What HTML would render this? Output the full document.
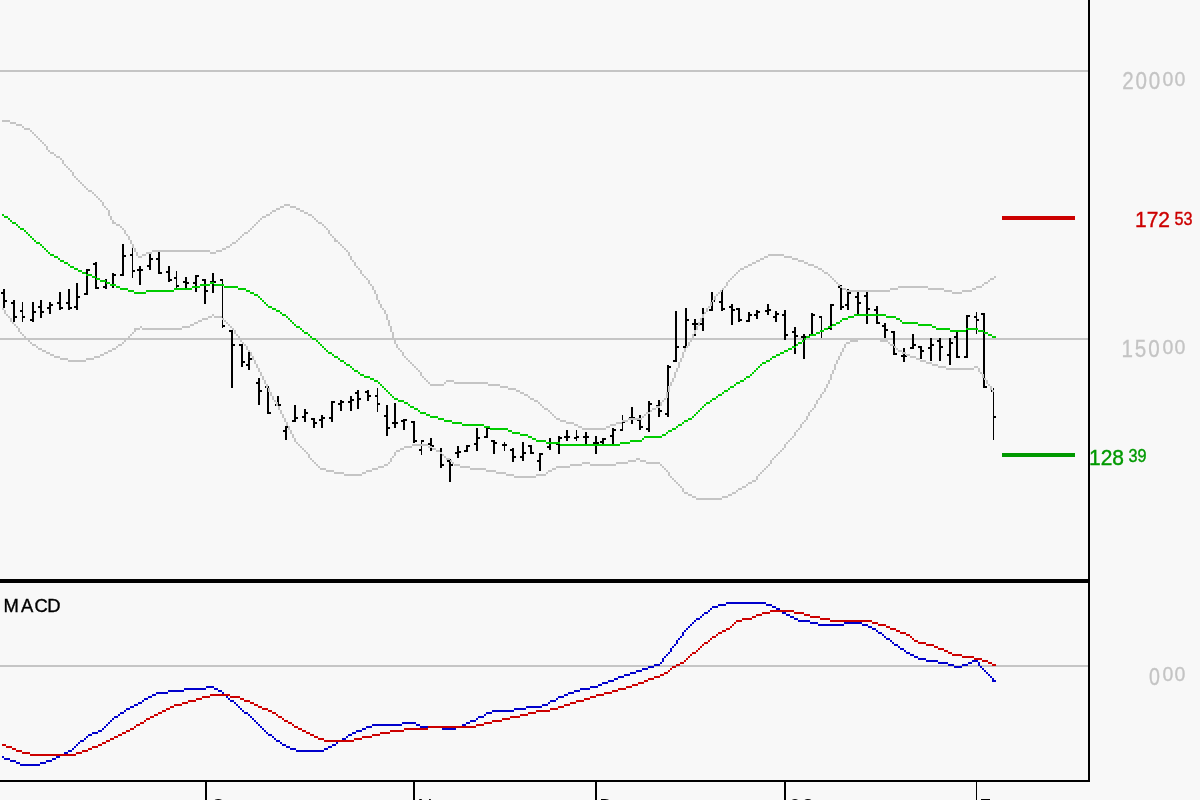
<!DOCTYPE html>
<html lang="en">
<head>
<meta charset="utf-8">
<title>MACD chart</title>
<style>
html,body{margin:0;padding:0;background:#f8f8f8;}
body{width:1200px;height:800px;overflow:hidden;position:relative;font-family:"Liberation Sans",sans-serif;}
svg{position:absolute;left:0;top:0;display:block;}
text{font-family:"Liberation Sans",sans-serif;}
.g{fill:#c4c4c4;stroke:#c4c4c4;stroke-width:0.3px}
.r{fill:#cc0000;stroke:#cc0000;stroke-width:0.4px}
.gr{fill:#009900;stroke:#009900;stroke-width:0.4px}
</style>
</head>
<body>
<svg width="1200" height="800" viewBox="0 0 1200 800">
<rect x="0" y="0" width="1200" height="800" fill="#f8f8f8"/>
<!-- grid -->
<g fill="#c5c5c5">
<rect x="0" y="70" width="1088" height="2"/>
<rect x="0" y="338" width="1088" height="2"/>
<rect x="0" y="665" width="1088" height="2"/>
</g>
<!-- price bars -->
<g fill="#000000">
<path d="M3 289h2v19h-2zM1 292h2v2h-2zM5 300h2v2h-2zM13 300h2v22h-2zM11 302h2v2h-2zM15 316h2v2h-2zM22 302h1v20h-1zM20 310h2v2h-2zM23 316h2v2h-2zM32 302h2v20h-2zM30 319h2v2h-2zM34 311h2v2h-2zM40 300h2v18h-2zM38 306h2v2h-2zM42 311h2v2h-2zM49 302h2v12h-2zM47 307h2v2h-2zM51 304h2v2h-2zM59 292h2v18h-2zM57 302h2v2h-2zM61 307h2v2h-2zM68 289h2v21h-2zM66 302h2v2h-2zM70 307h2v2h-2zM76 283h2v27h-2zM74 306h2v2h-2zM78 296h2v2h-2zM86 269h2v26h-2zM84 293h2v2h-2zM88 269h2v2h-2zM95 262h2v27h-2zM93 263h2v2h-2zM97 287h2v2h-2zM105 279h2v10h-2zM103 286h2v2h-2zM107 282h2v2h-2zM112 273h2v15h-2zM110 284h2v2h-2zM114 274h2v2h-2zM122 244h2v32h-2zM120 274h2v2h-2zM124 255h2v2h-2zM132 248h1v30h-1zM130 254h2v2h-2zM133 270h2v2h-2zM139 266h2v19h-2zM137 269h2v2h-2zM141 269h2v2h-2zM149 254h2v16h-2zM147 265h2v2h-2zM151 258h2v2h-2zM158 252h2v22h-2zM156 258h2v2h-2zM160 272h2v2h-2zM168 266h2v16h-2zM166 271h2v2h-2zM170 279h2v2h-2zM176 271h1v17h-1zM174 277h2v2h-2zM177 285h2v2h-2zM185 277h2v12h-2zM183 281h2v2h-2zM187 282h2v2h-2zM195 275h2v17h-2zM193 282h2v2h-2zM197 275h2v2h-2zM204 279h2v25h-2zM202 279h2v2h-2zM206 290h2v2h-2zM212 273h2v20h-2zM210 281h2v2h-2zM214 281h2v2h-2zM222 279h1v49h-1zM220 279h2v2h-2zM223 325h2v2h-2zM231 330h2v58h-2zM229 330h2v2h-2zM233 344h2v2h-2zM241 344h2v23h-2zM239 344h2v2h-2zM243 361h2v2h-2zM248 351h2v19h-2zM246 364h2v2h-2zM250 358h2v2h-2zM258 378h2v27h-2zM256 382h2v2h-2zM260 390h2v2h-2zM267 386h2v28h-2zM265 386h2v2h-2zM269 412h2v2h-2zM277 396h2v10h-2zM275 404h2v2h-2zM279 404h2v2h-2zM285 426h2v14h-2zM283 430h2v2h-2zM287 426h2v2h-2zM294 405h2v17h-2zM292 420h2v2h-2zM296 417h2v2h-2zM304 409h2v13h-2zM302 416h2v2h-2zM306 412h2v2h-2zM313 418h2v10h-2zM311 418h2v2h-2zM315 422h2v2h-2zM321 415h2v13h-2zM319 419h2v2h-2zM323 417h2v2h-2zM331 401h2v21h-2zM329 417h2v2h-2zM333 401h2v2h-2zM340 400h2v11h-2zM338 403h2v2h-2zM342 401h2v2h-2zM350 396h2v15h-2zM348 401h2v2h-2zM352 399h2v2h-2zM357 390h2v19h-2zM355 392h2v2h-2zM359 398h2v2h-2zM367 390h2v11h-2zM365 391h2v2h-2zM369 395h2v2h-2zM377 388h1v24h-1zM375 395h2v2h-2zM378 403h2v2h-2zM386 405h2v31h-2zM384 415h2v2h-2zM388 427h2v2h-2zM394 403h2v25h-2zM392 422h2v2h-2zM396 422h2v2h-2zM403 419h2v11h-2zM401 420h2v2h-2zM405 419h2v2h-2zM413 421h2v22h-2zM411 421h2v2h-2zM415 440h2v2h-2zM421 440h1v15h-1zM419 449h2v2h-2zM422 440h2v2h-2zM430 438h2v13h-2zM428 443h2v2h-2zM432 445h2v2h-2zM440 448h2v20h-2zM438 450h2v2h-2zM442 464h2v2h-2zM449 459h2v23h-2zM447 460h2v2h-2zM451 464h2v2h-2zM457 446h2v12h-2zM455 452h2v2h-2zM459 451h2v2h-2zM466 445h2v7h-2zM464 450h2v2h-2zM468 445h2v2h-2zM476 428h2v23h-2zM474 443h2v2h-2zM478 437h2v2h-2zM486 427h2v11h-2zM484 436h2v2h-2zM488 427h2v2h-2zM493 440h2v14h-2zM491 440h2v2h-2zM495 442h2v2h-2zM504 442h1v9h-1zM502 444h2v2h-2zM505 444h2v2h-2zM512 448h2v14h-2zM510 449h2v2h-2zM514 456h2v2h-2zM522 442h2v19h-2zM520 456h2v2h-2zM524 452h2v2h-2zM530 445h2v9h-2zM528 445h2v2h-2zM532 452h2v2h-2zM539 453h2v18h-2zM537 460h2v2h-2zM541 453h2v2h-2zM549 438h2v12h-2zM547 446h2v2h-2zM551 442h2v2h-2zM558 436h2v18h-2zM556 443h2v2h-2zM560 437h2v2h-2zM566 430h2v11h-2zM564 436h2v2h-2zM568 436h2v2h-2zM576 430h1v11h-1zM574 437h2v2h-2zM577 436h2v2h-2zM585 432h2v13h-2zM583 436h2v2h-2zM587 436h2v2h-2zM595 436h2v18h-2zM593 442h2v2h-2zM597 442h2v2h-2zM602 438h2v7h-2zM600 441h2v2h-2zM604 438h2v2h-2zM612 428h2v18h-2zM610 435h2v2h-2zM614 429h2v2h-2zM622 415h1v16h-1zM620 429h2v2h-2zM623 421h2v2h-2zM631 407h2v17h-2zM629 417h2v2h-2zM633 417h2v2h-2zM639 415h2v15h-2zM637 419h2v2h-2zM641 426h2v2h-2zM648 401h2v31h-2zM646 428h2v2h-2zM650 403h2v2h-2zM658 400h2v17h-2zM656 405h2v2h-2zM660 410h2v2h-2zM667 365h2v52h-2zM665 413h2v2h-2zM669 366h2v2h-2zM675 311h2v51h-2zM673 360h2v2h-2zM677 346h2v2h-2zM685 308h2v40h-2zM683 346h2v2h-2zM687 319h2v2h-2zM694 319h2v17h-2zM692 323h2v2h-2zM696 323h2v2h-2zM702 308h2v23h-2zM700 323h2v2h-2zM704 312h2v2h-2zM711 292h2v19h-2zM709 309h2v2h-2zM713 300h2v2h-2zM721 290h2v21h-2zM719 301h2v2h-2zM723 308h2v2h-2zM731 304h2v21h-2zM729 306h2v2h-2zM733 309h2v2h-2zM738 308h2v14h-2zM736 308h2v2h-2zM740 319h2v2h-2zM748 312h2v10h-2zM746 320h2v2h-2zM750 314h2v2h-2zM756 310h2v9h-2zM754 314h2v2h-2zM758 311h2v2h-2zM767 304h2v11h-2zM765 310h2v2h-2zM769 309h2v2h-2zM775 311h2v11h-2zM773 316h2v2h-2zM777 313h2v2h-2zM784 310h2v30h-2zM782 314h2v2h-2zM786 334h2v2h-2zM794 327h2v27h-2zM792 331h2v2h-2zM796 335h2v2h-2zM803 334h2v25h-2zM801 336h2v2h-2zM805 336h2v2h-2zM811 313h2v23h-2zM809 334h2v2h-2zM813 314h2v2h-2zM821 316h1v22h-1zM819 316h2v2h-2zM822 330h2v2h-2zM830 304h2v26h-2zM828 327h2v2h-2zM832 304h2v2h-2zM840 285h2v25h-2zM838 286h2v2h-2zM842 306h2v2h-2zM847 289h2v21h-2zM845 304h2v2h-2zM849 292h2v2h-2zM857 292h2v23h-2zM855 296h2v2h-2zM859 302h2v2h-2zM866 292h2v32h-2zM864 295h2v2h-2zM868 308h2v2h-2zM876 306h2v18h-2zM874 309h2v2h-2zM878 322h2v2h-2zM884 323h2v15h-2zM882 325h2v2h-2zM886 329h2v2h-2zM893 331h2v24h-2zM891 331h2v2h-2zM895 353h2v2h-2zM903 348h2v14h-2zM901 355h2v2h-2zM905 355h2v2h-2zM912 334h2v15h-2zM910 347h2v2h-2zM914 344h2v2h-2zM920 346h2v13h-2zM918 346h2v2h-2zM922 350h2v2h-2zM930 338h2v23h-2zM928 347h2v2h-2zM932 344h2v2h-2zM939 338h2v23h-2zM937 340h2v2h-2zM941 346h2v2h-2zM949 338h2v27h-2zM947 354h2v2h-2zM951 342h2v2h-2zM956 332h2v26h-2zM954 336h2v2h-2zM958 356h2v2h-2zM966 315h2v43h-2zM964 356h2v2h-2zM968 315h2v2h-2zM976 312h1v22h-1zM974 316h2v2h-2zM977 319h2v2h-2zM983 313h2v75h-2zM981 313h2v2h-2zM985 386h2v2h-2zM993 388h1v52h-1zM991 390h2v2h-2zM994 416h2v2h-2z"/>
</g>
<!-- bollinger bands -->
<path fill="#c4c4c4" d="M2 120h8v2h-8zM10 122h6v2h-6zM16 124h6v2h-6zM22 126h2v2h-2zM24 128h6v2h-6zM30 130h2v2h-2zM32 132h2v2h-2zM34 134h2v2h-2zM36 136h2v2h-2zM38 138h2v2h-2zM40 140h2v2h-2zM42 142h2v2h-2zM44 144h2v2h-2zM46 146h2v2h-2zM46 148h2v2h-2zM48 150h2v2h-2zM50 152h4v2h-4zM54 154h2v2h-2zM56 156h4v2h-4zM60 158h2v2h-2zM62 160h2v2h-2zM62 162h2v2h-2zM64 164h2v2h-2zM66 166h2v2h-2zM68 168h2v2h-2zM70 170h2v2h-2zM72 172h2v2h-2zM72 174h2v2h-2zM74 176h2v2h-2zM76 178h2v2h-2zM78 180h2v2h-2zM80 182h2v2h-2zM82 184h2v2h-2zM84 186h2v2h-2zM86 188h2v2h-2zM88 190h4v2h-4zM92 192h2v2h-2zM94 194h2v2h-2zM96 196h2v2h-2zM98 198h2v2h-2zM100 200h2v2h-2zM102 202h2v2h-2zM102 204h2v2h-2zM284 204h6v2h-6zM104 206h2v2h-2zM280 206h4v2h-4zM290 206h6v2h-6zM106 208h2v2h-2zM276 208h4v2h-4zM296 208h4v2h-4zM108 210h2v2h-2zM272 210h4v2h-4zM300 210h4v2h-4zM108 212h2v2h-2zM270 212h2v2h-2zM304 212h4v2h-4zM108 214h2v2h-2zM266 214h4v2h-4zM308 214h4v2h-4zM110 216h2v2h-2zM262 216h4v2h-4zM312 216h2v2h-2zM110 218h2v2h-2zM260 218h2v2h-2zM314 218h2v2h-2zM112 220h2v2h-2zM258 220h2v2h-2zM316 220h2v2h-2zM112 222h4v2h-4zM256 222h2v2h-2zM318 222h4v2h-4zM116 224h4v2h-4zM254 224h2v2h-2zM322 224h2v2h-2zM120 226h2v2h-2zM252 226h2v2h-2zM324 226h2v2h-2zM122 228h2v2h-2zM250 228h2v2h-2zM326 228h2v2h-2zM124 230h2v2h-2zM248 230h2v2h-2zM328 230h2v2h-2zM124 232h2v2h-2zM244 232h4v2h-4zM328 232h2v2h-2zM126 234h2v2h-2zM242 234h2v2h-2zM330 234h2v2h-2zM128 236h2v2h-2zM240 236h2v2h-2zM332 236h2v2h-2zM128 238h2v2h-2zM238 238h2v2h-2zM334 238h2v2h-2zM130 240h2v2h-2zM236 240h2v2h-2zM334 240h4v2h-4zM130 242h2v2h-2zM232 242h4v2h-4zM338 242h2v2h-2zM132 244h2v2h-2zM230 244h2v2h-2zM340 244h2v2h-2zM132 246h2v2h-2zM226 246h4v2h-4zM342 246h2v2h-2zM134 248h2v2h-2zM222 248h4v2h-4zM344 248h2v2h-2zM134 250h2v2h-2zM152 250h58v2h-58zM216 250h6v2h-6zM346 250h2v2h-2zM136 252h2v2h-2zM146 252h6v2h-6zM210 252h6v2h-6zM348 252h2v2h-2zM136 254h2v2h-2zM142 254h4v2h-4zM348 254h2v2h-2zM768 254h16v2h-16zM138 256h4v2h-4zM350 256h2v2h-2zM764 256h4v2h-4zM784 256h8v2h-8zM350 258h2v2h-2zM760 258h4v2h-4zM792 258h6v2h-6zM352 260h2v2h-2zM756 260h4v2h-4zM798 260h6v2h-6zM354 262h2v2h-2zM752 262h4v2h-4zM804 262h4v2h-4zM354 264h2v2h-2zM748 264h4v2h-4zM808 264h6v2h-6zM356 266h2v2h-2zM744 266h4v2h-4zM814 266h4v2h-4zM358 268h2v2h-2zM740 268h4v2h-4zM818 268h4v2h-4zM360 270h2v2h-2zM738 270h2v2h-2zM822 270h2v2h-2zM360 272h2v2h-2zM736 272h2v2h-2zM824 272h4v2h-4zM362 274h2v2h-2zM734 274h2v2h-2zM828 274h2v2h-2zM364 276h2v2h-2zM732 276h2v2h-2zM830 276h2v2h-2zM994 276h2v2h-2zM366 278h2v2h-2zM730 278h2v2h-2zM832 278h2v2h-2zM990 278h4v2h-4zM368 280h2v2h-2zM728 280h2v2h-2zM834 280h2v2h-2zM988 280h2v2h-2zM368 282h2v2h-2zM726 282h2v2h-2zM836 282h2v2h-2zM984 282h4v2h-4zM370 284h2v2h-2zM726 284h2v2h-2zM838 284h2v2h-2zM982 284h2v2h-2zM372 286h2v2h-2zM724 286h2v2h-2zM840 286h2v2h-2zM898 286h30v2h-30zM976 286h6v2h-6zM372 288h2v2h-2zM722 288h2v2h-2zM842 288h4v2h-4zM890 288h8v2h-8zM928 288h16v2h-16zM972 288h4v2h-4zM374 290h2v2h-2zM720 290h2v2h-2zM846 290h44v2h-44zM944 290h8v2h-8zM962 290h10v2h-10zM374 292h2v2h-2zM718 292h2v2h-2zM952 292h10v2h-10zM376 294h2v2h-2zM716 294h2v2h-2zM376 296h2v2h-2zM714 296h2v2h-2zM376 298h2v2h-2zM714 298h2v2h-2zM378 300h2v2h-2zM712 300h2v2h-2zM378 302h2v2h-2zM710 302h2v2h-2zM380 304h2v2h-2zM710 304h2v2h-2zM380 306h2v2h-2zM708 306h2v2h-2zM382 308h2v2h-2zM706 308h2v2h-2zM384 310h2v2h-2zM706 310h2v2h-2zM384 312h2v2h-2zM704 312h2v2h-2zM386 314h2v2h-2zM702 314h2v2h-2zM386 316h2v2h-2zM702 316h2v2h-2zM386 318h2v2h-2zM700 318h2v2h-2zM388 320h2v2h-2zM700 320h2v2h-2zM388 322h2v2h-2zM698 322h2v2h-2zM388 324h2v2h-2zM698 324h2v2h-2zM390 326h2v2h-2zM696 326h2v2h-2zM390 328h2v2h-2zM696 328h2v2h-2zM390 330h2v2h-2zM694 330h2v2h-2zM392 332h2v2h-2zM694 332h2v2h-2zM392 334h2v2h-2zM692 334h2v2h-2zM392 336h2v2h-2zM692 336h2v2h-2zM392 338h2v2h-2zM690 338h2v2h-2zM394 340h2v2h-2zM690 340h2v2h-2zM394 342h2v2h-2zM688 342h2v2h-2zM396 344h2v2h-2zM688 344h2v2h-2zM396 346h2v2h-2zM686 346h2v2h-2zM398 348h2v2h-2zM684 348h2v2h-2zM400 350h2v2h-2zM684 350h2v2h-2zM402 352h2v2h-2zM682 352h2v2h-2zM402 354h2v2h-2zM682 354h2v2h-2zM404 356h2v2h-2zM682 356h2v2h-2zM406 358h2v2h-2zM680 358h2v2h-2zM408 360h2v2h-2zM680 360h2v2h-2zM410 362h2v2h-2zM678 362h2v2h-2zM412 364h2v2h-2zM678 364h2v2h-2zM414 366h2v2h-2zM678 366h2v2h-2zM416 368h2v2h-2zM676 368h2v2h-2zM418 370h2v2h-2zM676 370h2v2h-2zM420 372h2v2h-2zM674 372h2v2h-2zM420 374h2v2h-2zM674 374h2v2h-2zM422 376h2v2h-2zM674 376h2v2h-2zM424 378h2v2h-2zM672 378h2v2h-2zM426 380h2v2h-2zM446 380h8v2h-8zM672 380h2v2h-2zM428 382h2v2h-2zM444 382h2v2h-2zM454 382h34v2h-34zM670 382h2v2h-2zM430 384h14v2h-14zM488 384h12v2h-12zM670 384h2v2h-2zM500 386h8v2h-8zM668 386h2v2h-2zM508 388h8v2h-8zM668 388h2v2h-2zM516 390h4v2h-4zM668 390h2v2h-2zM520 392h4v2h-4zM666 392h2v2h-2zM524 394h4v2h-4zM666 394h2v2h-2zM528 396h2v2h-2zM666 396h2v2h-2zM530 398h4v2h-4zM664 398h2v2h-2zM534 400h4v2h-4zM662 400h2v2h-2zM538 402h2v2h-2zM660 402h2v2h-2zM540 404h2v2h-2zM660 404h2v2h-2zM542 406h2v2h-2zM656 406h4v2h-4zM544 408h4v2h-4zM652 408h4v2h-4zM548 410h2v2h-2zM650 410h2v2h-2zM550 412h2v2h-2zM646 412h4v2h-4zM552 414h2v2h-2zM644 414h2v2h-2zM554 416h2v2h-2zM642 416h2v2h-2zM556 418h4v2h-4zM628 418h14v2h-14zM560 420h6v2h-6zM622 420h6v2h-6zM566 422h8v2h-8zM616 422h6v2h-6zM574 424h4v2h-4zM610 424h6v2h-6zM578 426h4v2h-4zM606 426h4v2h-4zM582 428h24v2h-24z"/>
<path fill="#c4c4c4" d="M2 308h2v2h-2zM4 310h2v2h-2zM4 312h2v2h-2zM6 314h2v2h-2zM212 314h2v2h-2zM8 316h2v2h-2zM208 316h4v2h-4zM214 316h8v2h-8zM10 318h2v2h-2zM202 318h6v2h-6zM222 318h2v2h-2zM10 320h2v2h-2zM198 320h4v2h-4zM224 320h2v2h-2zM12 322h2v2h-2zM194 322h4v2h-4zM226 322h2v2h-2zM14 324h2v2h-2zM190 324h4v2h-4zM228 324h2v2h-2zM16 326h2v2h-2zM140 326h2v2h-2zM182 326h8v2h-8zM230 326h2v2h-2zM18 328h2v2h-2zM134 328h6v2h-6zM142 328h40v2h-40zM232 328h2v2h-2zM18 330h2v2h-2zM134 330h2v2h-2zM234 330h2v2h-2zM20 332h2v2h-2zM132 332h2v2h-2zM234 332h2v2h-2zM22 334h2v2h-2zM130 334h2v2h-2zM236 334h2v2h-2zM24 336h2v2h-2zM128 336h2v2h-2zM238 336h2v2h-2zM26 338h2v2h-2zM126 338h2v2h-2zM240 338h2v2h-2zM858 338h22v2h-22zM28 340h2v2h-2zM124 340h2v2h-2zM240 340h2v2h-2zM850 340h8v2h-8zM880 340h8v2h-8zM30 342h2v2h-2zM122 342h2v2h-2zM242 342h2v2h-2zM846 342h4v2h-4zM888 342h2v2h-2zM32 344h4v2h-4zM118 344h4v2h-4zM244 344h2v2h-2zM844 344h2v2h-2zM890 344h4v2h-4zM36 346h2v2h-2zM116 346h2v2h-2zM246 346h2v2h-2zM844 346h2v2h-2zM894 346h2v2h-2zM38 348h4v2h-4zM112 348h4v2h-4zM246 348h2v2h-2zM842 348h2v2h-2zM896 348h2v2h-2zM42 350h4v2h-4zM108 350h4v2h-4zM248 350h2v2h-2zM842 350h2v2h-2zM898 350h4v2h-4zM46 352h4v2h-4zM104 352h4v2h-4zM250 352h2v2h-2zM840 352h2v2h-2zM902 352h4v2h-4zM50 354h4v2h-4zM100 354h4v2h-4zM250 354h2v2h-2zM840 354h2v2h-2zM906 354h4v2h-4zM54 356h6v2h-6zM94 356h6v2h-6zM252 356h2v2h-2zM838 356h2v2h-2zM910 356h6v2h-6zM60 358h8v2h-8zM86 358h8v2h-8zM252 358h2v2h-2zM838 358h2v2h-2zM916 358h4v2h-4zM68 360h18v2h-18zM254 360h2v2h-2zM836 360h2v2h-2zM920 360h6v2h-6zM254 362h2v2h-2zM836 362h2v2h-2zM926 362h6v2h-6zM256 364h2v2h-2zM834 364h2v2h-2zM932 364h6v2h-6zM256 366h2v2h-2zM834 366h2v2h-2zM938 366h8v2h-8zM974 366h4v2h-4zM258 368h2v2h-2zM834 368h2v2h-2zM946 368h28v2h-28zM978 368h2v2h-2zM258 370h2v2h-2zM832 370h2v2h-2zM978 370h2v2h-2zM260 372h2v2h-2zM832 372h2v2h-2zM980 372h2v2h-2zM260 374h2v2h-2zM830 374h2v2h-2zM982 374h2v2h-2zM262 376h2v2h-2zM830 376h2v2h-2zM982 376h2v2h-2zM262 378h2v2h-2zM830 378h2v2h-2zM984 378h2v2h-2zM264 380h2v2h-2zM828 380h2v2h-2zM986 380h2v2h-2zM264 382h2v2h-2zM828 382h2v2h-2zM986 382h2v2h-2zM266 384h2v2h-2zM826 384h2v2h-2zM988 384h2v2h-2zM266 386h2v2h-2zM826 386h2v2h-2zM990 386h2v2h-2zM268 388h2v2h-2zM824 388h2v2h-2zM990 388h2v2h-2zM268 390h2v2h-2zM824 390h2v2h-2zM992 390h2v2h-2zM270 392h2v2h-2zM822 392h2v2h-2zM270 394h2v2h-2zM820 394h2v2h-2zM272 396h2v2h-2zM820 396h2v2h-2zM272 398h2v2h-2zM818 398h2v2h-2zM274 400h2v2h-2zM816 400h2v2h-2zM276 402h2v2h-2zM816 402h2v2h-2zM276 404h2v2h-2zM814 404h2v2h-2zM278 406h2v2h-2zM814 406h2v2h-2zM278 408h2v2h-2zM812 408h2v2h-2zM280 410h2v2h-2zM810 410h2v2h-2zM280 412h2v2h-2zM808 412h2v2h-2zM282 414h2v2h-2zM808 414h2v2h-2zM282 416h2v2h-2zM806 416h2v2h-2zM284 418h2v2h-2zM806 418h2v2h-2zM284 420h2v2h-2zM804 420h2v2h-2zM286 422h2v2h-2zM802 422h2v2h-2zM286 424h2v2h-2zM800 424h2v2h-2zM288 426h2v2h-2zM800 426h2v2h-2zM288 428h2v2h-2zM798 428h2v2h-2zM290 430h2v2h-2zM796 430h2v2h-2zM290 432h2v2h-2zM794 432h2v2h-2zM292 434h2v2h-2zM794 434h2v2h-2zM292 436h2v2h-2zM792 436h2v2h-2zM294 438h2v2h-2zM790 438h2v2h-2zM294 440h2v2h-2zM788 440h2v2h-2zM296 442h2v2h-2zM786 442h2v2h-2zM298 444h2v2h-2zM412 444h16v2h-16zM784 444h2v2h-2zM300 446h2v2h-2zM404 446h8v2h-8zM428 446h4v2h-4zM784 446h2v2h-2zM302 448h2v2h-2zM400 448h4v2h-4zM432 448h4v2h-4zM782 448h2v2h-2zM304 450h2v2h-2zM396 450h4v2h-4zM436 450h4v2h-4zM780 450h2v2h-2zM306 452h2v2h-2zM394 452h2v2h-2zM440 452h2v2h-2zM778 452h2v2h-2zM308 454h2v2h-2zM394 454h2v2h-2zM442 454h2v2h-2zM776 454h2v2h-2zM308 456h2v2h-2zM392 456h2v2h-2zM444 456h2v2h-2zM774 456h2v2h-2zM310 458h2v2h-2zM390 458h2v2h-2zM446 458h4v2h-4zM636 458h4v2h-4zM772 458h2v2h-2zM312 460h2v2h-2zM390 460h2v2h-2zM450 460h2v2h-2zM628 460h8v2h-8zM640 460h6v2h-6zM770 460h2v2h-2zM314 462h2v2h-2zM388 462h2v2h-2zM452 462h2v2h-2zM582 462h8v2h-8zM616 462h12v2h-12zM646 462h14v2h-14zM770 462h2v2h-2zM316 464h2v2h-2zM384 464h4v2h-4zM454 464h6v2h-6zM570 464h12v2h-12zM590 464h26v2h-26zM660 464h2v2h-2zM768 464h2v2h-2zM318 466h2v2h-2zM378 466h6v2h-6zM460 466h10v2h-10zM556 466h14v2h-14zM662 466h2v2h-2zM766 466h2v2h-2zM320 468h6v2h-6zM372 468h6v2h-6zM470 468h16v2h-16zM552 468h4v2h-4zM664 468h2v2h-2zM764 468h2v2h-2zM326 470h8v2h-8zM366 470h6v2h-6zM486 470h10v2h-10zM548 470h4v2h-4zM666 470h2v2h-2zM762 470h2v2h-2zM334 472h10v2h-10zM362 472h4v2h-4zM496 472h10v2h-10zM546 472h2v2h-2zM668 472h2v2h-2zM760 472h2v2h-2zM344 474h18v2h-18zM506 474h8v2h-8zM536 474h10v2h-10zM668 474h2v2h-2zM758 474h2v2h-2zM514 476h22v2h-22zM670 476h2v2h-2zM756 476h2v2h-2zM672 478h2v2h-2zM756 478h2v2h-2zM674 480h2v2h-2zM752 480h4v2h-4zM676 482h2v2h-2zM748 482h4v2h-4zM678 484h2v2h-2zM746 484h2v2h-2zM680 486h2v2h-2zM742 486h4v2h-4zM682 488h2v2h-2zM738 488h4v2h-4zM682 490h2v2h-2zM736 490h2v2h-2zM684 492h4v2h-4zM732 492h4v2h-4zM688 494h4v2h-4zM728 494h4v2h-4zM692 496h4v2h-4zM722 496h6v2h-6zM696 498h26v2h-26z"/>
<!-- moving average -->
<path fill="#00cc00" d="M2 214h2v2h-2zM4 216h4v2h-4zM8 218h2v2h-2zM10 220h2v2h-2zM12 222h4v2h-4zM16 224h2v2h-2zM18 226h2v2h-2zM20 228h4v2h-4zM24 230h2v2h-2zM26 232h2v2h-2zM28 234h2v2h-2zM30 236h2v2h-2zM32 238h2v2h-2zM34 240h2v2h-2zM36 242h4v2h-4zM40 244h2v2h-2zM42 246h2v2h-2zM44 248h2v2h-2zM46 250h2v2h-2zM48 252h2v2h-2zM50 254h4v2h-4zM54 256h4v2h-4zM58 258h2v2h-2zM60 260h4v2h-4zM64 262h4v2h-4zM68 264h2v2h-2zM70 266h4v2h-4zM74 268h4v2h-4zM78 270h4v2h-4zM82 272h4v2h-4zM86 274h6v2h-6zM92 276h4v2h-4zM96 278h4v2h-4zM100 280h6v2h-6zM106 282h4v2h-4zM210 282h4v2h-4zM110 284h6v2h-6zM200 284h10v2h-10zM214 284h10v2h-10zM116 286h4v2h-4zM192 286h8v2h-8zM224 286h14v2h-14zM120 288h8v2h-8zM174 288h18v2h-18zM238 288h8v2h-8zM128 290h6v2h-6zM146 290h28v2h-28zM246 290h4v2h-4zM134 292h12v2h-12zM250 292h4v2h-4zM254 294h4v2h-4zM258 296h2v2h-2zM260 298h2v2h-2zM262 300h2v2h-2zM264 302h2v2h-2zM266 304h2v2h-2zM268 306h4v2h-4zM272 308h4v2h-4zM276 310h4v2h-4zM280 312h2v2h-2zM282 314h4v2h-4zM854 314h32v2h-32zM286 316h2v2h-2zM848 316h6v2h-6zM886 316h10v2h-10zM288 318h2v2h-2zM842 318h6v2h-6zM896 318h4v2h-4zM290 320h2v2h-2zM840 320h2v2h-2zM900 320h2v2h-2zM292 322h2v2h-2zM836 322h4v2h-4zM902 322h16v2h-16zM294 324h2v2h-2zM832 324h4v2h-4zM918 324h14v2h-14zM296 326h4v2h-4zM828 326h4v2h-4zM932 326h4v2h-4zM300 328h2v2h-2zM824 328h4v2h-4zM936 328h14v2h-14zM966 328h12v2h-12zM302 330h2v2h-2zM820 330h4v2h-4zM950 330h16v2h-16zM978 330h6v2h-6zM304 332h4v2h-4zM816 332h4v2h-4zM984 332h4v2h-4zM308 334h2v2h-2zM810 334h6v2h-6zM988 334h4v2h-4zM310 336h2v2h-2zM806 336h4v2h-4zM992 336h4v2h-4zM312 338h4v2h-4zM804 338h2v2h-2zM316 340h2v2h-2zM802 340h2v2h-2zM318 342h2v2h-2zM798 342h4v2h-4zM320 344h2v2h-2zM796 344h2v2h-2zM322 346h2v2h-2zM792 346h4v2h-4zM324 348h2v2h-2zM788 348h4v2h-4zM326 350h2v2h-2zM784 350h4v2h-4zM328 352h4v2h-4zM780 352h4v2h-4zM332 354h2v2h-2zM776 354h4v2h-4zM334 356h4v2h-4zM772 356h4v2h-4zM338 358h2v2h-2zM770 358h2v2h-2zM340 360h4v2h-4zM766 360h4v2h-4zM344 362h2v2h-2zM762 362h4v2h-4zM346 364h4v2h-4zM760 364h2v2h-2zM350 366h2v2h-2zM758 366h2v2h-2zM352 368h2v2h-2zM756 368h2v2h-2zM354 370h4v2h-4zM754 370h2v2h-2zM358 372h2v2h-2zM752 372h2v2h-2zM360 374h4v2h-4zM750 374h2v2h-2zM364 376h6v2h-6zM746 376h4v2h-4zM370 378h4v2h-4zM744 378h2v2h-2zM374 380h4v2h-4zM740 380h4v2h-4zM378 382h2v2h-2zM736 382h4v2h-4zM380 384h2v2h-2zM734 384h2v2h-2zM382 386h2v2h-2zM730 386h4v2h-4zM384 388h2v2h-2zM728 388h2v2h-2zM386 390h2v2h-2zM724 390h4v2h-4zM388 392h2v2h-2zM722 392h2v2h-2zM390 394h2v2h-2zM718 394h4v2h-4zM392 396h2v2h-2zM716 396h2v2h-2zM394 398h4v2h-4zM712 398h4v2h-4zM398 400h6v2h-6zM710 400h2v2h-2zM404 402h4v2h-4zM706 402h4v2h-4zM408 404h2v2h-2zM704 404h2v2h-2zM410 406h4v2h-4zM702 406h2v2h-2zM414 408h4v2h-4zM700 408h2v2h-2zM418 410h2v2h-2zM698 410h2v2h-2zM420 412h6v2h-6zM696 412h2v2h-2zM426 414h4v2h-4zM694 414h2v2h-2zM430 416h8v2h-8zM692 416h2v2h-2zM438 418h6v2h-6zM688 418h4v2h-4zM444 420h8v2h-8zM684 420h4v2h-4zM452 422h10v2h-10zM682 422h2v2h-2zM462 424h22v2h-22zM678 424h4v2h-4zM484 426h6v2h-6zM676 426h2v2h-2zM490 428h18v2h-18zM672 428h4v2h-4zM508 430h4v2h-4zM668 430h4v2h-4zM512 432h8v2h-8zM666 432h2v2h-2zM520 434h8v2h-8zM662 434h4v2h-4zM528 436h4v2h-4zM644 436h18v2h-18zM532 438h4v2h-4zM642 438h2v2h-2zM536 440h10v2h-10zM630 440h12v2h-12zM546 442h14v2h-14zM620 442h10v2h-10zM560 444h60v2h-60z"/>
<!-- levels -->
<rect x="1002" y="216" width="73" height="4" fill="#cc0000"/>
<rect x="1002" y="453" width="73" height="4" fill="#009900"/>
<!-- macd -->
<path fill="#0000cc" d="M726 602h40v2h-40zM718 604h8v2h-8zM766 604h6v2h-6zM712 606h6v2h-6zM772 606h4v2h-4zM710 608h2v2h-2zM776 608h4v2h-4zM708 610h2v2h-2zM780 610h2v2h-2zM704 612h4v2h-4zM782 612h4v2h-4zM702 614h2v2h-2zM786 614h4v2h-4zM700 616h2v2h-2zM790 616h4v2h-4zM696 618h4v2h-4zM794 618h4v2h-4zM694 620h2v2h-2zM798 620h12v2h-12zM692 622h2v2h-2zM810 622h8v2h-8zM844 622h18v2h-18zM690 624h2v2h-2zM818 624h26v2h-26zM862 624h6v2h-6zM688 626h2v2h-2zM868 626h4v2h-4zM686 628h2v2h-2zM872 628h4v2h-4zM684 630h2v2h-2zM876 630h2v2h-2zM682 632h2v2h-2zM878 632h4v2h-4zM682 634h2v2h-2zM882 634h2v2h-2zM680 636h2v2h-2zM884 636h2v2h-2zM678 638h2v2h-2zM886 638h4v2h-4zM676 640h2v2h-2zM890 640h2v2h-2zM676 642h2v2h-2zM892 642h2v2h-2zM674 644h2v2h-2zM894 644h4v2h-4zM672 646h2v2h-2zM898 646h2v2h-2zM670 648h2v2h-2zM900 648h4v2h-4zM670 650h2v2h-2zM904 650h2v2h-2zM668 652h2v2h-2zM906 652h4v2h-4zM666 654h2v2h-2zM910 654h4v2h-4zM664 656h2v2h-2zM914 656h4v2h-4zM662 658h2v2h-2zM918 658h8v2h-8zM662 660h2v2h-2zM926 660h12v2h-12zM972 660h6v2h-6zM660 662h2v2h-2zM938 662h10v2h-10zM968 662h4v2h-4zM978 662h2v2h-2zM654 664h6v2h-6zM948 664h6v2h-6zM962 664h6v2h-6zM978 664h2v2h-2zM648 666h6v2h-6zM954 666h8v2h-8zM980 666h2v2h-2zM642 668h6v2h-6zM982 668h2v2h-2zM636 670h6v2h-6zM984 670h2v2h-2zM630 672h6v2h-6zM986 672h2v2h-2zM624 674h6v2h-6zM988 674h2v2h-2zM618 676h6v2h-6zM990 676h2v2h-2zM614 678h4v2h-4zM992 678h2v2h-2zM608 680h6v2h-6zM992 680h4v2h-4zM602 682h6v2h-6zM598 684h4v2h-4zM206 686h8v2h-8zM590 686h8v2h-8zM184 688h22v2h-22zM214 688h4v2h-4zM580 688h10v2h-10zM168 690h16v2h-16zM218 690h4v2h-4zM574 690h6v2h-6zM156 692h12v2h-12zM222 692h2v2h-2zM568 692h6v2h-6zM152 694h4v2h-4zM224 694h2v2h-2zM564 694h4v2h-4zM148 696h4v2h-4zM226 696h2v2h-2zM558 696h6v2h-6zM144 698h4v2h-4zM228 698h2v2h-2zM556 698h2v2h-2zM142 700h2v2h-2zM230 700h4v2h-4zM550 700h6v2h-6zM138 702h4v2h-4zM234 702h2v2h-2zM548 702h2v2h-2zM134 704h4v2h-4zM236 704h2v2h-2zM542 704h6v2h-6zM130 706h4v2h-4zM238 706h2v2h-2zM526 706h16v2h-16zM126 708h4v2h-4zM240 708h2v2h-2zM514 708h12v2h-12zM124 710h2v2h-2zM242 710h2v2h-2zM492 710h22v2h-22zM120 712h4v2h-4zM244 712h4v2h-4zM486 712h6v2h-6zM118 714h2v2h-2zM248 714h2v2h-2zM484 714h2v2h-2zM114 716h4v2h-4zM250 716h2v2h-2zM478 716h6v2h-6zM112 718h2v2h-2zM252 718h2v2h-2zM476 718h2v2h-2zM110 720h2v2h-2zM254 720h2v2h-2zM470 720h6v2h-6zM108 722h2v2h-2zM256 722h2v2h-2zM402 722h14v2h-14zM466 722h4v2h-4zM106 724h2v2h-2zM258 724h2v2h-2zM372 724h30v2h-30zM416 724h4v2h-4zM462 724h4v2h-4zM104 726h2v2h-2zM260 726h2v2h-2zM366 726h6v2h-6zM420 726h22v2h-22zM456 726h6v2h-6zM102 728h2v2h-2zM262 728h2v2h-2zM362 728h4v2h-4zM442 728h14v2h-14zM98 730h4v2h-4zM264 730h2v2h-2zM356 730h6v2h-6zM92 732h6v2h-6zM266 732h2v2h-2zM352 732h4v2h-4zM88 734h4v2h-4zM268 734h4v2h-4zM348 734h4v2h-4zM86 736h2v2h-2zM272 736h2v2h-2zM346 736h2v2h-2zM84 738h2v2h-2zM274 738h2v2h-2zM342 738h4v2h-4zM80 740h4v2h-4zM276 740h4v2h-4zM338 740h4v2h-4zM78 742h2v2h-2zM280 742h2v2h-2zM336 742h2v2h-2zM76 744h2v2h-2zM282 744h4v2h-4zM332 744h4v2h-4zM74 746h2v2h-2zM286 746h4v2h-4zM328 746h4v2h-4zM72 748h2v2h-2zM290 748h6v2h-6zM324 748h4v2h-4zM68 750h4v2h-4zM296 750h28v2h-28zM64 752h4v2h-4zM60 754h4v2h-4zM2 756h2v2h-2zM56 756h4v2h-4zM4 758h6v2h-6zM52 758h4v2h-4zM10 760h6v2h-6zM46 760h6v2h-6zM16 762h4v2h-4zM40 762h6v2h-6zM20 764h20v2h-20z"/>
<path fill="#cc0000" d="M770 610h24v2h-24zM762 612h8v2h-8zM794 612h10v2h-10zM756 614h6v2h-6zM804 614h6v2h-6zM752 616h4v2h-4zM810 616h10v2h-10zM742 618h10v2h-10zM820 618h10v2h-10zM736 620h6v2h-6zM830 620h42v2h-42zM734 622h2v2h-2zM872 622h6v2h-6zM732 624h2v2h-2zM878 624h8v2h-8zM730 626h2v2h-2zM886 626h4v2h-4zM726 628h4v2h-4zM890 628h6v2h-6zM722 630h4v2h-4zM896 630h4v2h-4zM718 632h4v2h-4zM900 632h6v2h-6zM716 634h2v2h-2zM906 634h4v2h-4zM712 636h4v2h-4zM910 636h2v2h-2zM710 638h2v2h-2zM912 638h2v2h-2zM708 640h2v2h-2zM914 640h4v2h-4zM704 642h4v2h-4zM918 642h8v2h-8zM702 644h2v2h-2zM926 644h8v2h-8zM700 646h2v2h-2zM934 646h4v2h-4zM698 648h2v2h-2zM938 648h6v2h-6zM696 650h2v2h-2zM944 650h4v2h-4zM692 652h4v2h-4zM948 652h4v2h-4zM690 654h2v2h-2zM952 654h10v2h-10zM688 656h2v2h-2zM962 656h12v2h-12zM686 658h2v2h-2zM974 658h8v2h-8zM684 660h2v2h-2zM982 660h6v2h-6zM680 662h4v2h-4zM988 662h4v2h-4zM676 664h4v2h-4zM992 664h4v2h-4zM672 666h4v2h-4zM670 668h2v2h-2zM668 670h2v2h-2zM664 672h4v2h-4zM660 674h4v2h-4zM654 676h6v2h-6zM648 678h6v2h-6zM644 680h4v2h-4zM638 682h6v2h-6zM632 684h6v2h-6zM626 686h6v2h-6zM618 688h8v2h-8zM612 690h6v2h-6zM604 692h8v2h-8zM210 694h20v2h-20zM596 694h8v2h-8zM202 696h8v2h-8zM230 696h10v2h-10zM590 696h6v2h-6zM196 698h6v2h-6zM240 698h4v2h-4zM584 698h6v2h-6zM188 700h8v2h-8zM244 700h6v2h-6zM576 700h8v2h-8zM182 702h6v2h-6zM250 702h4v2h-4zM570 702h6v2h-6zM174 704h8v2h-8zM254 704h4v2h-4zM564 704h6v2h-6zM170 706h4v2h-4zM258 706h4v2h-4zM558 706h6v2h-6zM166 708h4v2h-4zM262 708h6v2h-6zM550 708h8v2h-8zM162 710h4v2h-4zM268 710h4v2h-4zM536 710h14v2h-14zM158 712h4v2h-4zM272 712h4v2h-4zM528 712h8v2h-8zM154 714h4v2h-4zM276 714h2v2h-2zM520 714h8v2h-8zM150 716h4v2h-4zM278 716h4v2h-4zM510 716h10v2h-10zM146 718h4v2h-4zM282 718h2v2h-2zM502 718h8v2h-8zM144 720h2v2h-2zM284 720h4v2h-4zM492 720h10v2h-10zM140 722h4v2h-4zM288 722h4v2h-4zM484 722h8v2h-8zM136 724h4v2h-4zM292 724h2v2h-2zM476 724h8v2h-8zM134 726h2v2h-2zM294 726h4v2h-4zM428 726h48v2h-48zM130 728h4v2h-4zM298 728h4v2h-4zM404 728h24v2h-24zM126 730h4v2h-4zM302 730h4v2h-4zM390 730h14v2h-14zM122 732h4v2h-4zM306 732h4v2h-4zM380 732h10v2h-10zM118 734h4v2h-4zM310 734h4v2h-4zM372 734h8v2h-8zM114 736h4v2h-4zM314 736h4v2h-4zM362 736h10v2h-10zM110 738h4v2h-4zM318 738h6v2h-6zM354 738h8v2h-8zM106 740h4v2h-4zM324 740h30v2h-30zM102 742h4v2h-4zM2 744h4v2h-4zM98 744h4v2h-4zM6 746h6v2h-6zM92 746h6v2h-6zM12 748h4v2h-4zM88 748h4v2h-4zM16 750h6v2h-6zM82 750h6v2h-6zM22 752h8v2h-8zM76 752h6v2h-6zM30 754h46v2h-46z"/>
<!-- frame -->
<g fill="#000000">
<rect x="0" y="579" width="1089" height="4"/>
<rect x="1088" y="0" width="2" height="782"/>
<rect x="0" y="780" width="1090" height="2"/>
<rect x="205" y="780" width="2" height="20"/>
<rect x="413" y="780" width="2" height="20"/>
<rect x="595" y="780" width="2" height="20"/>
<rect x="784" y="780" width="2" height="20"/>
<rect x="976" y="780" width="1" height="20"/>
</g>
<!-- labels -->
<text x="3.6 21 34.4 47.2" y="612" font-size="18.4" fill="#000" stroke="#000" stroke-width="0.35">MACD</text>
<text class="g" transform="translate(1122.3,88.8) scale(0.88,1)" font-size="23.4" letter-spacing="2">200</text>
<text class="g" x="1162.4" y="86" font-size="19.5" letter-spacing="1.3">00</text>
<text class="g" transform="translate(1121.4,356.8) scale(0.88,1)" font-size="23.4" letter-spacing="2.2">150</text>
<text class="g" x="1162.4" y="354" font-size="19.5" letter-spacing="1.3">00</text>
<text class="g" transform="translate(1149,684.8) scale(0.84,1)" font-size="23.4">0</text>
<text class="g" x="1162.4" y="681" font-size="19.5" letter-spacing="1.3">00</text>
<text class="r" x="1135" y="227.2" font-size="21.4" textLength="35" lengthAdjust="spacingAndGlyphs">172</text>
<text class="r" x="1174.5" y="225" font-size="18" textLength="18" lengthAdjust="spacingAndGlyphs">53</text>
<text class="gr" x="1089" y="464.6" font-size="21.4" textLength="35" lengthAdjust="spacingAndGlyphs">128</text>
<text class="gr" x="1128.5" y="462.4" font-size="18" textLength="18" lengthAdjust="spacingAndGlyphs">39</text>
<!-- month labels (cut off by viewport) -->
<g fill="#000" font-size="18.4">
<text x="211" y="812">O</text>
<text x="417.6" y="812" textLength="15" lengthAdjust="spacingAndGlyphs">N</text>
<text x="599.4" y="812">D</text>
<text x="789" y="813.8" font-size="21.4" letter-spacing="1">03</text>
<text x="979.4" y="812">F</text>
</g>
</svg>
</body>
</html>
